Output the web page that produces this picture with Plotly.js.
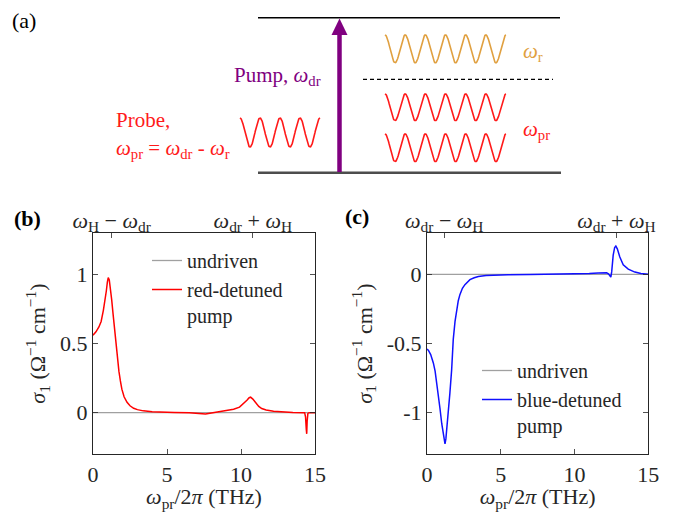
<!DOCTYPE html>
<html>
<head>
<meta charset="utf-8">
<script src="https://cdn.plot.ly/plotly-3.0.1.min.js"></script>
<style>
html,body{margin:0;padding:0;background:#fff;}
#chart{width:676px;height:512px;}
#chart text, #chart tspan{font-family:'Liberation Serif', 'Times New Roman', serif !important;}
#panelA{position:absolute;left:12px;top:8px;font-family:'Liberation Serif', serif;font-size:22px;line-height:26px;color:#000;}
</style>
</head>
<body>
<div id="chart"></div>
<div id="panelA">(a)</div>
<script>
// ---------- data ----------
const freqRed = [0, 0.2, 0.4, 0.55, 0.7, 0.8, 0.9, 0.97, 1.03, 1.1, 1.18, 1.26, 1.35, 1.45, 1.55, 1.65, 1.75, 1.85, 1.95, 2.1, 2.3, 2.5, 2.75, 3.0, 3.4, 4.0, 4.6, 5.5, 6.5, 7.2, 7.6, 8.0, 8.6, 9.1, 9.5, 9.9, 10.2, 10.4, 10.55, 10.65, 10.8, 11.0, 11.2, 11.4, 11.7, 12.2, 12.8, 13.5, 14.3, 14.36, 14.41, 14.44, 14.47, 14.52, 14.6, 15];
const sigmaRed = [0.56, 0.585, 0.62, 0.66, 0.74, 0.8, 0.88, 0.945, 0.977, 0.96, 0.9, 0.82, 0.72, 0.6, 0.48, 0.38, 0.3, 0.23, 0.17, 0.115, 0.075, 0.05, 0.032, 0.022, 0.013, 0.007, 0.004, 0.002, 0.0, -0.005, -0.009, -0.002, 0.007, 0.016, 0.025, 0.04, 0.066, 0.09, 0.108, 0.112, 0.098, 0.072, 0.045, 0.03, 0.02, 0.01, 0.005, 0.002, 0.0, -0.03, -0.12, -0.153, -0.06, -0.005, 0.0, 0.0];

const freqBlue = [0, 0.1, 0.25, 0.43, 0.55, 0.66, 0.77, 0.88, 1.0, 1.1, 1.17, 1.22, 1.28, 1.36, 1.44, 1.55, 1.67, 1.78, 1.9, 2.01, 2.12, 2.23, 2.4, 2.57, 2.75, 2.91, 3.2, 3.48, 4.0, 4.5, 5.5, 7.0, 8.5, 10.0, 11.0, 11.6, 12.17, 12.3, 12.46, 12.52, 12.62, 12.72, 12.8, 12.9, 13.07, 13.3, 13.64, 14.09, 14.5, 15];
const sigmaBlue = [-0.54, -0.55, -0.58, -0.64, -0.7, -0.78, -0.87, -0.97, -1.08, -1.165, -1.21, -1.225, -1.19, -1.1, -1.0, -0.86, -0.69, -0.47, -0.34, -0.254, -0.19, -0.146, -0.1, -0.074, -0.052, -0.038, -0.024, -0.015, -0.008, -0.005, -0.003, -0.001, 0.0, 0.003, 0.006, 0.01, 0.012, 0.005, -0.02, 0.02, 0.14, 0.195, 0.205, 0.185, 0.126, 0.07, 0.038, 0.017, 0.007, 0.002];

const freqUndriven = [0, 15];
const sigmaUndriven = [0, 0];

const xTicks = [0, 5, 10, 15];
const yTicksB = [0, 0.5, 1];
const yTickTextB = ['0', '0.5', '1'];
const yTicksC = [-1, -0.5, 0];
const yTickTextC = ['-1', '-0.5', '0'];
const topTicksB = [1.26, 10.8];
const topTextB = ['<i>ω</i><sub>H</sub> − <i>ω</i><sub>dr</sub>', '<i>ω</i><sub>dr</sub> + <i>ω</i><sub>H</sub>'];
const topTicksC = [1.17, 12.84];
const topTextC = ['<i>ω</i><sub>dr</sub> − <i>ω</i><sub>H</sub>', '<i>ω</i><sub>dr</sub> + <i>ω</i><sub>H</sub>'];

// ---------- schematic (panel a) wave illustration ----------
const waveSpecs = [
  {x0: 240, x1: 320, yc: 132.5, amp: 14.5, cycles: 4, color: '#ff1a1a'},
  {x0: 385, x1: 506, yc: 48.9, amp: 13.9, cycles: 6, color: '#e0a040'},
  {x0: 385, x1: 506, yc: 107.3, amp: 13.3, cycles: 6, color: '#ff1a1a'},
  {x0: 385, x1: 506, yc: 147.8, amp: 13.8, cycles: 6, color: '#ff1a1a'}
];

const FONT = 'Liberation Serif';
const AX = '#262626';
const fnt = (size, color) => ({family: FONT, size: size, color: color || AX});
const traces = [];

waveSpecs.forEach(w => {
  const xs = [], ys = [];
  const n = 240;
  for (let i = 0; i <= n; i++) {
    const t = i / n;
    xs.push(w.x0 + t * (w.x1 - w.x0));
    ys.push(w.yc - w.amp * Math.cos(2 * Math.PI * w.cycles * t));
  }
  traces.push({x: xs, y: ys, xaxis: 'x5', yaxis: 'y5', mode: 'lines',
    line: {color: w.color, width: 1.6}, showlegend: false, hoverinfo: 'skip'});
});

traces.push({x: freqUndriven, y: sigmaUndriven, xaxis: 'x', yaxis: 'y', mode: 'lines',
  name: 'undriven', line: {color: '#a0a0a0', width: 1.3}, legend: 'legend'});
traces.push({x: freqRed, y: sigmaRed, xaxis: 'x', yaxis: 'y', mode: 'lines',
  name: 'red-detuned<br>pump', line: {color: '#ff0000', width: 1.5}, legend: 'legend'});
traces.push({x: [0], y: [0], xaxis: 'x3', yaxis: 'y', mode: 'markers', marker: {opacity: 0}, showlegend: false, hoverinfo: 'skip'});
traces.push({x: freqUndriven, y: sigmaUndriven, xaxis: 'x2', yaxis: 'y2', mode: 'lines',
  name: 'undriven', line: {color: '#a0a0a0', width: 1.3}, legend: 'legend2'});
traces.push({x: freqBlue, y: sigmaBlue, xaxis: 'x2', yaxis: 'y2', mode: 'lines',
  name: 'blue-detuned<br>pump', line: {color: '#1010ff', width: 1.5}, legend: 'legend2'});
traces.push({x: [0], y: [0], xaxis: 'x4', yaxis: 'y2', mode: 'markers', marker: {opacity: 0}, showlegend: false, hoverinfo: 'skip'});

const px = v => v / 676;
const py = v => 1 - v / 512;

function bottomAxis(domain, anchor) {
  return {domain: domain, anchor: anchor, range: [0, 15], autorange: false,
    tickvals: xTicks, ticktext: xTicks.map(String), ticks: 'inside', ticklen: 5, tickwidth: 0.8, tickcolor: AX,
    showline: true, mirror: true, linecolor: AX, linewidth: 1, showgrid: false, zeroline: false,
    tickfont: fnt(22),
    title: {text: '<i>ω</i><sub>pr</sub>/2<i>π</i> (THz)', font: fnt(22), standoff: 2}};
}
function topAxis(over, anchor, vals, text) {
  return {overlaying: over, anchor: anchor, side: 'top', range: [0, 15], autorange: false,
    tickvals: vals, ticktext: text, ticks: 'inside', ticklen: 5, tickwidth: 0.8, tickcolor: AX,
    showline: false, showgrid: false, zeroline: false, tickfont: fnt(22)};
}
function leftAxis(domain, anchor, range, vals, text) {
  return {domain: domain, anchor: anchor, range: range, autorange: false,
    tickvals: vals, ticktext: text, ticks: 'inside', ticklen: 5, tickwidth: 0.8, tickcolor: AX,
    showline: true, mirror: 'ticks', linecolor: AX, linewidth: 1, showgrid: false, zeroline: false,
    tickfont: fnt(22),
    title: {text: '<i>σ</i><sub>1</sub> (Ω<sup>−1</sup> cm<sup>−1</sup>)', font: fnt(22), standoff: 8}};
}

const yDom = [0.113, 0.545];
const S = (o) => Object.assign({xref: 'x5', yref: 'y5'}, o);

const layout = {
  width: 676, height: 512,
  margin: {l: 0, r: 0, t: 0, b: 0},
  paper_bgcolor: '#ffffff', plot_bgcolor: 'rgba(0,0,0,0)',
  font: fnt(20),
  xaxis: bottomAxis([px(93), px(315)], 'y'),
  xaxis3: topAxis('x', 'y', topTicksB, topTextB),
  yaxis: leftAxis(yDom, 'x', [-0.3, 1.3], yTicksB, yTickTextB),
  xaxis2: bottomAxis([px(427), px(648.3)], 'y2'),
  xaxis4: topAxis('x2', 'y2', topTicksC, topTextC),
  yaxis2: leftAxis(yDom, 'x2', [-1.3, 0.3], yTicksC, yTickTextC),
  xaxis5: {domain: [0, 1], anchor: 'y5', range: [0, 676], autorange: false, visible: false, fixedrange: true},
  yaxis5: {domain: [py(190), 1], anchor: 'x5', range: [190, 0], autorange: false, visible: false, fixedrange: true},
  legend: {x: px(147), y: py(241), xanchor: 'left', yanchor: 'top', bgcolor: 'rgba(0,0,0,0)',
    font: fnt(20), valign: 'top', tracegroupgap: 0},
  legend2: {x: px(477), y: py(351), xanchor: 'left', yanchor: 'top', bgcolor: 'rgba(0,0,0,0)',
    font: fnt(20), valign: 'top', tracegroupgap: 0},
  shapes: [
    S({type: 'line', x0: 258, x1: 560, y0: 17.7, y1: 17.7, line: {color: '#000', width: 1.5}}),
    S({type: 'line', x0: 258, x1: 561, y0: 172.7, y1: 172.7, line: {color: '#4d4d4d', width: 2.5}}),
    S({type: 'line', x0: 363, x1: 553, y0: 79.3, y1: 79.3, line: {color: '#000', width: 1.2, dash: '4px,3px'}}),
    S({type: 'line', x0: 339.5, x1: 339.5, y0: 172, y1: 33, line: {color: '#800080', width: 4.5}}),
    S({type: 'path', path: 'M 331.5 35 L 347.5 35 L 339.5 18.5 Z', fillcolor: '#800080', line: {width: 0}})
  ],
  annotations: [
    S({x: 323, y: 76, text: 'Pump, <i>ω</i><sub>dr</sub>', showarrow: false, xanchor: 'right', yanchor: 'middle', font: fnt(21, '#800080')}),
    S({x: 114, y: 120, text: 'Probe,', showarrow: false, xanchor: 'left', yanchor: 'middle', font: fnt(21, '#ff1a1a')}),
    S({x: 114, y: 149, text: '<i>ω</i><sub>pr</sub> = <i>ω</i><sub>dr</sub> - <i>ω</i><sub>r</sub>', showarrow: false, xanchor: 'left', yanchor: 'middle', font: fnt(21, '#ff1a1a')}),
    S({x: 521, y: 52, text: '<i>ω</i><sub>r</sub>', showarrow: false, xanchor: 'left', yanchor: 'middle', font: fnt(21, '#e0a040')}),
    S({x: 521, y: 130, text: '<i>ω</i><sub>pr</sub>', showarrow: false, xanchor: 'left', yanchor: 'middle', font: fnt(21, '#ff1a1a')}),
    {xref: 'paper', yref: 'paper', x: px(12), y: py(218), text: '<b>(b)</b>', showarrow: false, xanchor: 'left', yanchor: 'middle', font: fnt(22, '#000')},
    {xref: 'paper', yref: 'paper', x: px(343), y: py(216), text: '<b>(c)</b>', showarrow: false, xanchor: 'left', yanchor: 'middle', font: fnt(22, '#000')}
  ]
};

Plotly.newPlot('chart', traces, layout, {displayModeBar: false, staticPlot: true}).then(gd => {
  gd.querySelectorAll('text, tspan').forEach(el => {
    const cs = getComputedStyle(el);
    el.setAttribute('font-family', cs.fontFamily);
    el.setAttribute('font-size', cs.fontSize);
  });
});
</script>
</body>
</html>
